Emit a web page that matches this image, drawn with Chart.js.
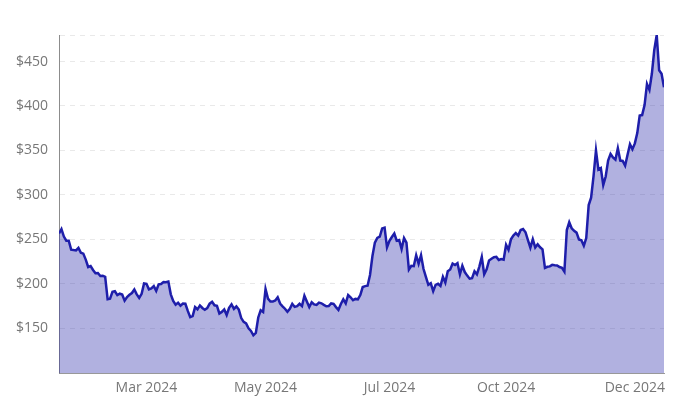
<!DOCTYPE html>
<html>
<head>
<meta charset="utf-8">
<script src="https://cdn.jsdelivr.net/npm/chart.js@4"></script>
<style>
  html, body { margin: 0; padding: 0; background: #fff; }
  #wrap { width: 686px; height: 403px; }
</style>
</head>
<body>
<div id="wrap"><canvas id="price"></canvas></div>
<script>
// daily closes, late Dec 2023 through Dec 20 2024 (one per trading day)
const prices = [
  256.61, 261.44, 253.18, 248.48,
  // Jan
  248.42, 238.45, 237.93, 237.49, 240.45, 234.96, 233.94, 227.22, 218.89, 219.91,
  215.55, 211.88, 212.19, 208.80, 209.14, 207.83, 182.63, 183.25, 190.93, 191.59, 187.29,
  // Feb
  188.86, 187.91, 181.06, 185.10, 187.58, 189.56, 193.57, 188.13, 184.02, 188.71,
  200.45, 199.95, 193.76, 194.77, 197.41, 191.97, 199.40, 199.73, 202.04, 201.88,
  // Mar
  202.64, 188.14, 180.74, 176.54, 178.65, 175.34, 177.77, 177.54, 169.48, 162.50,
  163.57, 173.80, 171.32, 175.66, 172.82, 170.83, 172.63, 177.67, 179.83, 175.79,
  // Apr
  175.22, 166.63, 168.38, 171.11, 164.90, 172.98, 176.88, 171.76, 174.60, 171.05, 161.48,
  157.11, 155.45, 149.93, 147.05, 142.05, 144.68, 162.13, 170.18, 168.29, 194.05, 183.28,
  // May
  179.99, 180.01, 181.19, 184.76, 177.81, 174.72, 171.97, 168.47, 171.89, 177.55, 173.99,
  174.84, 177.46, 174.95, 186.60, 180.11, 173.74, 179.24, 176.75, 176.19, 178.79, 178.08,
  // Jun
  176.29, 174.77, 175.00, 177.94, 177.48, 173.79, 170.66, 177.29, 182.47, 178.01,
  187.44, 184.86, 181.57, 183.01, 182.58, 187.35, 196.37, 197.42, 197.88,
  // Jul
  209.86, 231.26, 246.39, 251.52, 252.94, 262.33, 263.26, 241.03, 248.23, 252.64, 256.56,
  248.50, 249.23, 239.20, 251.51, 246.38, 215.99, 220.25, 219.80, 232.10, 222.62, 232.07,
  // Aug
  216.86, 207.67, 198.88, 200.64, 191.76, 198.84, 200.00, 197.49, 207.83, 201.38, 214.14,
  216.12, 222.72, 221.10, 223.27, 210.66, 220.32, 213.21, 209.21, 205.75, 206.28, 214.11,
  // Sep
  210.60, 219.41, 230.17, 210.73, 216.27, 226.17, 228.13, 229.81, 230.29, 226.78,
  227.87, 227.20, 243.92, 238.25, 250.00, 254.27, 257.02, 254.22, 260.46, 261.63,
  // Oct
  258.02, 249.02, 240.66, 250.08, 240.83, 244.50, 241.05, 238.77, 217.80, 219.16, 219.57, 221.33,
  220.89, 220.70, 218.85, 217.97, 213.65, 260.48, 269.19, 262.51, 259.52, 257.55, 249.85,
  // Nov
  248.98, 242.84, 251.44, 288.53, 296.91, 321.22, 350.00, 328.49, 330.24, 311.18,
  320.72, 338.74, 346.00, 342.03, 339.64, 352.56, 338.59, 338.23, 332.89, 345.16,
  // Dec
  357.09, 351.42, 357.93, 369.49, 389.22, 389.79, 400.99, 424.77, 418.10, 436.23,
  463.02, 479.86, 440.13, 436.17, 421.06
];

// which points get a date label under the x axis
const xTickIndex = [36, 85, 136, 184, 237];
const xTickLabels = ["Mar 2024", "May 2024", "Jul 2024", "Oct 2024", "Dec 2024"];
const yTicks = [150, 200, 250, 300, 350, 400, 450];

const yMin = Math.min(...prices) * 0.7;
const yMax = Math.max(...prices);

const font = { family: "'Open Sans', 'Noto Sans', sans-serif", size: 14 };

new Chart("price", {
    type: "line",
    data: {
        labels: prices.map((p, i) => i),
        datasets: [
            {
                data: prices,
                borderColor: "rgb(30, 30, 170)",
                borderWidth: 2.5,
                backgroundColor: "rgba(38, 38, 170, 0.36)",
                fill: "origin",
                pointRadius: 0,
                tension: 0,
            },
        ],
    },
    options: {
        responsive: true,
        maintainAspectRatio: false,
        animation: false,
        layout: { padding: { top: 35, right: 22, bottom: 1, left: 5 } },
        plugins: {
            legend: { display: false },
            tooltip: { enabled: false },
        },
        scales: {
            x: {
                type: "linear",
                min: 0,
                max: prices.length - 1,
                afterBuildTicks: (s) => {
                    s.ticks = xTickIndex.map((v) => ({ value: v }));
                },
                grid: { display: false, drawTicks: false },
                border: { display: true, color: "#999" },
                ticks: {
                    autoSkip: false,
                    maxRotation: 0,
                    color: "#777",
                    font: font,
                    padding: 6,
                    callback: (v) => xTickLabels[xTickIndex.indexOf(v)] || "",
                },
            },
            y: {
                min: yMin,
                max: yMax,
                afterBuildTicks: (s) => {
                    s.ticks = [yMin, ...yTicks, yMax].map((v) => ({ value: v }));
                },
                grid: { color: "#e9e9e9", drawTicks: false },
                border: { display: true, color: "#8c8c8c", dash: [5, 5] },
                ticks: {
                    color: "#777",
                    font: font,
                    padding: 11,
                    callback: (v) => (yTicks.includes(v) ? "$" + v : ""),
                },
            },
        },
    },
});
</script>
</body>
</html>
